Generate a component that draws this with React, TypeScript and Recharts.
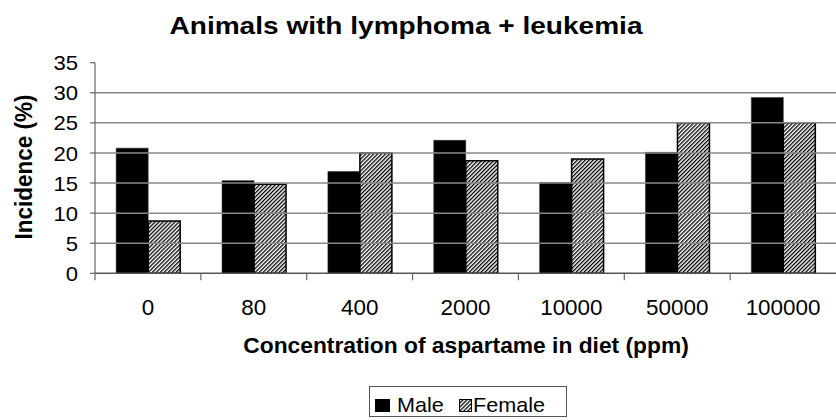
import React from 'react';
import { BarChart, Bar, XAxis, YAxis, Legend, ReferenceLine, Customized } from 'recharts';

const categories = ['0', '80', '400', '2000', '10000', '50000', '100000'];
const maleValues = [20.8, 15.4, 16.9, 22.1, 15.1, 20.1, 29.2];
const femaleValues = [8.7, 14.8, 20.0, 18.7, 19.0, 25.0, 25.0];
const yTicks = [0, 5, 10, 15, 20, 25, 30, 35];
const gridValues = [5, 10, 15, 20, 25, 30];

const data = categories.map((c, i) => ({ cat: c, Male: maleValues[i], Female: femaleValues[i] }));

const W = 836;
const H = 420;
const Y_AXIS_W = 95;
const MARGIN_RIGHT = 0;
const PLOT_W = W - Y_AXIS_W - MARGIN_RIGHT;
const STEP = PLOT_W / categories.length;
const FONT = 'Arial, "Liberation Sans", sans-serif';

const XTick = (props: any) => {
  const { x, y, payload } = props;
  return (
    <g>
      <line x1={x - STEP / 2} x2={x - STEP / 2} y1={y} y2={y + 7} stroke="#666" strokeWidth={1.2} />
      <text transform={`translate(${x},${y + 41.5}) scale(1.02,1)`} textAnchor="middle" fontSize={22} fontFamily={FONT} fill="#000">
        {payload.value}
      </text>
    </g>
  );
};

const YTick = (props: any) => {
  const { x, y, payload } = props;
  return (
    <text transform={`translate(${x},${y}) scale(1.05,1)`} textAnchor="end" dy="0.36em" fontSize={21} fontFamily={FONT} fill="#000">
      {payload.value}
    </text>
  );
};

const Titles = () => (
  <g>
    <text transform={`translate(406,33.5) scale(1.22,1)`} textAnchor="middle" fontSize={23} fontWeight="bold" fontFamily={FONT} fill="#000">
      Animals with lymphoma + leukemia
    </text>
    <text transform={`translate(466,353) scale(1.06,1)`} textAnchor="middle" fontSize={21.5} fontWeight="bold" fontFamily={FONT} fill="#000">
      Concentration of aspartame in diet (ppm)
    </text>
    <text transform={`translate(32,167) scale(1.1,1) rotate(-90)`} textAnchor="middle" fontSize={22.5} fontWeight="bold" fontFamily={FONT} fill="#000">
      Incidence (%)
    </text>
  </g>
);

const LegendBox = () => (
  <svg width={198} height={31} style={{ display: 'block' }}>
    <defs>
      <pattern id="hatchLegend" patternUnits="userSpaceOnUse" width="2.8" height="2.8" patternTransform="rotate(45)">
        <rect x="0" y="0" width="1.3" height="2.8" fill="#000" />
      </pattern>
    </defs>
    <rect x={0.5} y={0.5} width={197} height={30} fill="#fff" stroke="#555" strokeWidth={1} />
    <rect x={6} y={13} width={15} height={13} fill="#000" />
    <text transform={`translate(28,26) scale(1.08,1)`} fontSize={20} fontFamily={FONT} fill="#000">Male</text>
    <rect x={90.5} y={13.5} width={12} height={12} fill="url(#hatchLegend)" stroke="#000" strokeWidth={1} />
    <text transform={`translate(104,26) scale(1.08,1)`} fontSize={20} fontFamily={FONT} fill="#000">Female</text>
  </svg>
);

export default function App() {
  return (
    <div style={{ position: 'absolute', left: 0, top: 0, width: W, height: H, background: '#fff' }}>
      <BarChart
        width={W}
        height={H}
        data={data}
        margin={{ top: 62.7, right: MARGIN_RIGHT, bottom: 86.7, left: 0 }}
        barCategoryGap="20%"
        barGap={0}
      >
        <defs>
          <pattern id="hatch" patternUnits="userSpaceOnUse" width="2.8" height="2.8" patternTransform="rotate(45)">
            <rect x="0" y="0" width="1.3" height="2.8" fill="#000" />
          </pattern>
        </defs>
        <XAxis
          dataKey="cat"
          height={60}
          tickLine={false}
          tickSize={0}
          tickMargin={0}
          axisLine={{ stroke: '#555', strokeWidth: 1.5 }}
          tick={<XTick />}
          interval={0}
        />
        <YAxis
          width={Y_AXIS_W}
          domain={[0, 35]}
          ticks={yTicks}
          interval={0}
          tickSize={5}
          tickMargin={12}
          tickLine={{ stroke: '#666', strokeWidth: 1.2 }}
          axisLine={{ stroke: '#666', strokeWidth: 1.2 }}
          tick={<YTick />}
        />
        {gridValues.map((v) => (
          <ReferenceLine key={v} y={v} stroke="#888" strokeWidth={1.5} ifOverflow="extendDomain" />
        ))}
        <Bar dataKey="Male" fill="#000" stroke="#222" strokeWidth={0.5} isAnimationActive={false} />
        <Bar dataKey="Female" fill="url(#hatch)" stroke="#000" strokeWidth={1.5} isAnimationActive={false} />
        <Legend
          layout="horizontal"
          verticalAlign="middle"
          align="center"
          content={<LegendBox />}
          wrapperStyle={{ position: 'absolute', left: 369, top: 386, width: 198, height: 31 }}
        />
        <Customized component={<Titles />} />
      </BarChart>
    </div>
  );
}
